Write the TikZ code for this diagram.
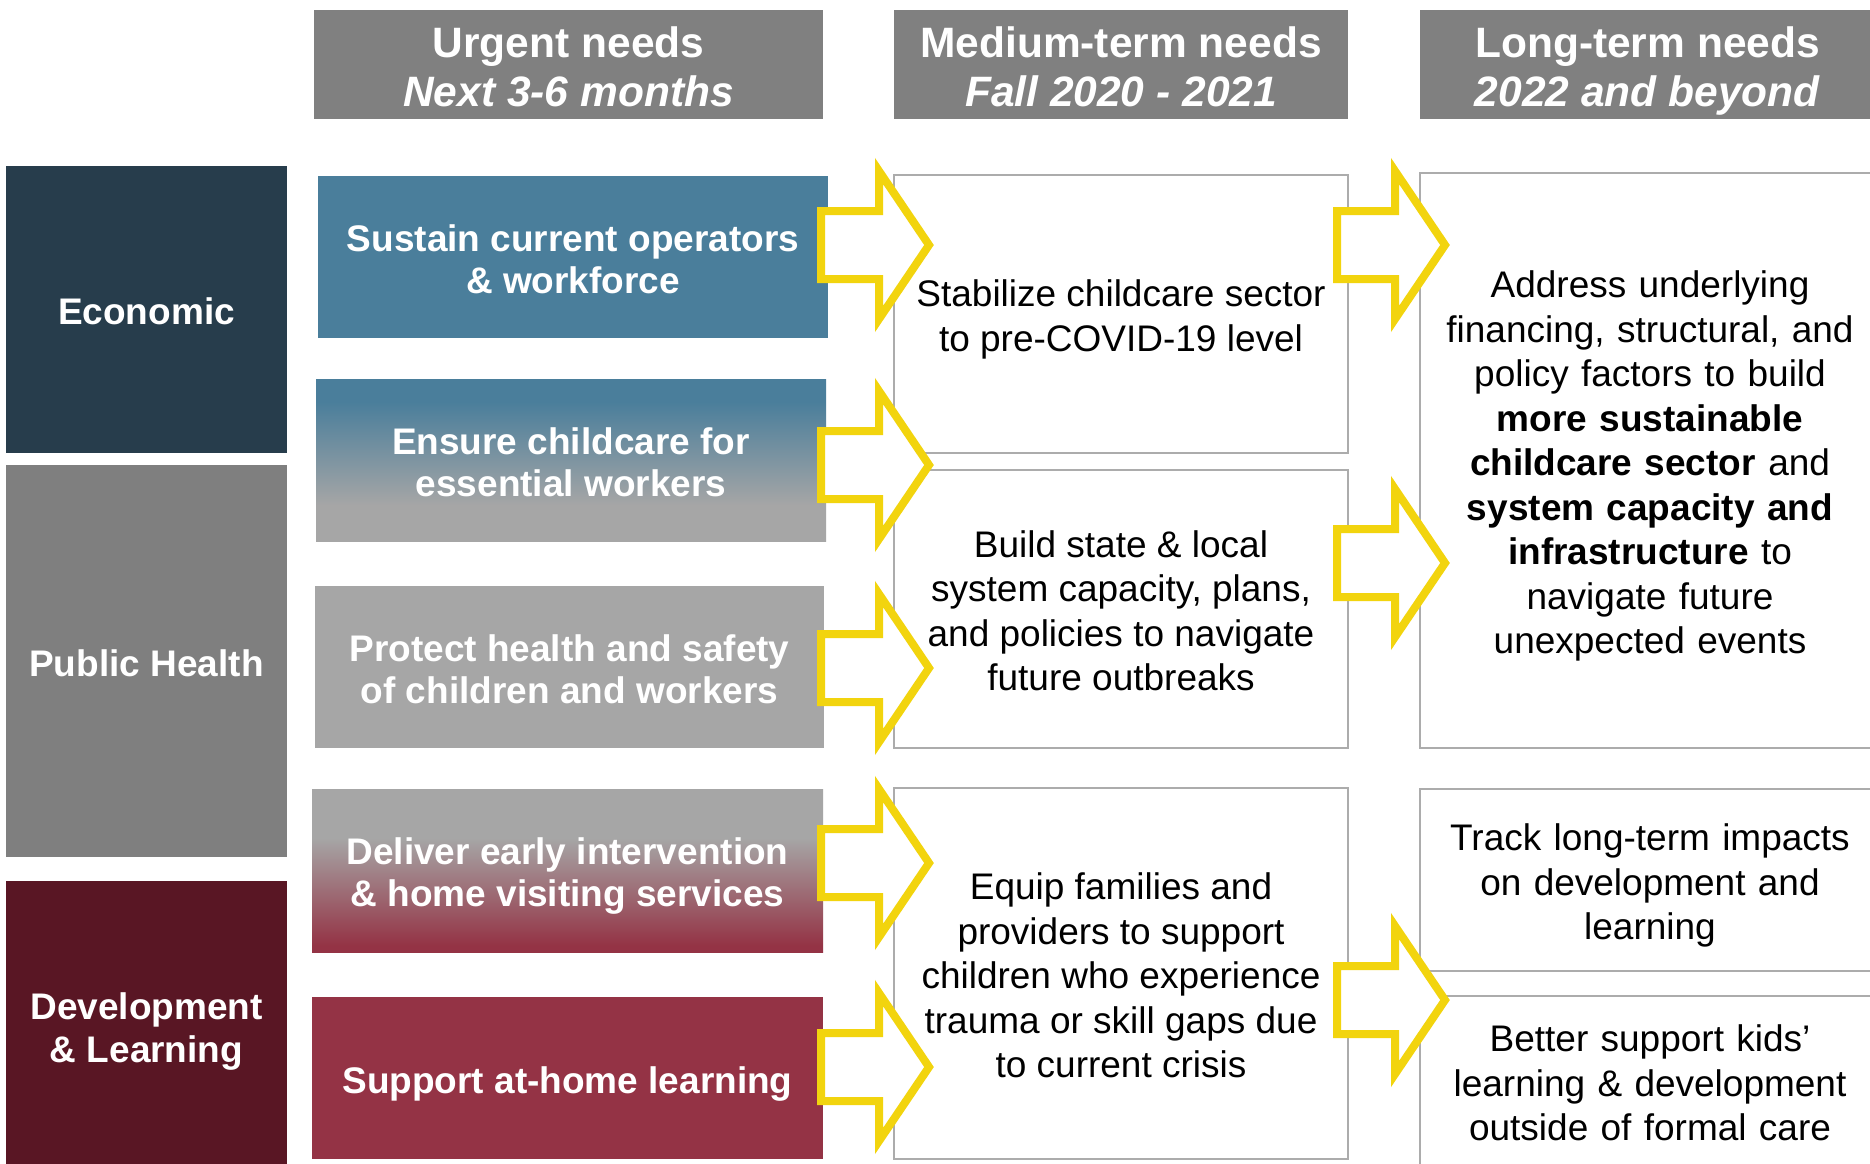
\documentclass[tikz,border=0pt]{standalone}
\usepackage{fontspec}
\setmainfont{Liberation Sans}
\definecolor{hdr}{RGB}{128,128,128}
\definecolor{eco}{RGB}{39,61,76}
\definecolor{phc}{RGB}{127,127,127}
\definecolor{dev}{RGB}{89,22,36}
\definecolor{steel}{RGB}{74,126,155}
\definecolor{lgray}{RGB}{166,166,166}
\definecolor{wine}{RGB}{148,51,69}
\definecolor{yel}{RGB}{242,212,14}
\definecolor{frame}{RGB}{172,172,172}
\pgfdeclareverticalshading{ensureshade}{100bp}{color(0bp)=(lgray); color(36bp)=(lgray); color(68bp)=(steel); color(100bp)=(steel)}
\pgfdeclareverticalshading{delivershade}{100bp}{color(0bp)=(wine); color(27bp)=(wine); color(60bp)=(lgray); color(100bp)=(lgray)}
\newcommand\pstrA{\rule{0pt}{1.03em}}
\newcommand\pstrB{\rule[-0.212em]{0pt}{0.212em}}
\begin{document}
\begin{tikzpicture}[x=1pt,y=-1pt,
  base/.style={rectangle, inner sep=0pt, outer sep=0pt, anchor=north west, align=center},
  hdrbox/.style={base, fill=hdr, text=white, font=\fontsize{42.5}{49}\selectfont\bfseries},
  catbox/.style={base, text=white, font=\fontsize{37}{43}\selectfont\bfseries},
  ubox/.style={base, text=white, font=\fontsize{37}{42}\selectfont\bfseries},
  wbox/.style={base, draw=frame, line width=2pt, fill=white, text=black, font=\fontsize{37}{44.5}\selectfont},
  arrowline/.style={draw=yel, fill=white, line width=8pt, line join=miter},
  yarrow/.pic={\path[arrowline] (4,-34) -- (62,-34) -- (62,-74) -- (112,0) -- (62,74) -- (62,34) -- (4,34) -- cycle;}
]
\useasboundingbox[fill=white] (0,0) rectangle (1870,1163);

% headers
\node[hdrbox, minimum width=509pt, minimum height=109pt] (hU) at (314,10) {\pstrA Urgent needs\\\textit{Next 3-6 months}\pstrB};
\node[hdrbox, minimum width=454pt, minimum height=109pt] (hM) at (894,10) {\pstrA Medium-term needs\\\textit{Fall 2020 - 2021}\pstrB};
\node[hdrbox, minimum width=455pt, minimum height=109pt] (hL) at (1420,10) {\pstrA Long-term needs\\\textit{2022 and beyond}\pstrB};

% categories
\node[catbox, fill=eco, minimum width=281pt, minimum height=287pt] (cEco) at (6,166) {\pstrA Economic\pstrB};
\node[catbox, fill=phc, minimum width=281pt, minimum height=392pt] (cPH) at (6,465) {\pstrA Public Health\pstrB};
\node[catbox, fill=dev, minimum width=281pt, minimum height=290pt] (cDev) at (6,881) {\pstrA Development\\\& Learning\pstrB};

% urgent column
\node[ubox, fill=steel, minimum width=510pt, minimum height=162pt] (u1) at (318,176) {\pstrA Sustain current operators\\\& workforce\pstrB};
\node[ubox, shade, shading=ensureshade, minimum width=510pt, minimum height=162pt] (u2) at (316,379) {\pstrA Ensure childcare for\\essential workers\pstrB};
\node[ubox, fill=lgray, minimum width=509pt, minimum height=162pt] (u3) at (315,586) {\pstrA Protect health and safety\\of children and workers\pstrB};
\node[ubox, shade, shading=delivershade, minimum width=511pt, minimum height=163pt] (u4) at (312,789) {\pstrA Deliver early intervention\\\& home visiting services\pstrB};
\node[ubox, fill=wine, minimum width=511pt, minimum height=162pt] (u5) at (312,997) {\pstrA Support at-home learning\pstrB};

% medium column
\node[wbox, minimum width=454pt, minimum height=278pt] (m1) at (894,175) {\pstrA Stabilize childcare sector\\to pre-COVID-19 level\pstrB};
\node[wbox, minimum width=454pt, minimum height=278pt] (m2) at (894,470) {\pstrA Build state \& local\\system capacity, plans,\\and policies to navigate\\future outbreaks\pstrB};
\node[wbox, minimum width=454pt, minimum height=371pt] (m3) at (894,788) {\pstrA Equip families and\\providers to support\\children who experience\\trauma or skill gaps due\\to current crisis\pstrB};

% long column
\node[wbox, minimum width=460pt, minimum height=575pt, text width=455pt] (l1) at (1420,173) {\pstrA Address underlying\\financing, structural, and\\policy factors to build\\\textbf{more sustainable}\\\textbf{childcare sector} and\\\textbf{system capacity and}\\\textbf{infrastructure} to\\navigate future\\unexpected events\pstrB};
\node[wbox, minimum width=460pt, minimum height=182pt, text width=455pt] (l2) at (1420,789) {\pstrA Track long-term impacts\\on development and\\learning\pstrB};
\node[wbox, minimum width=460pt, minimum height=170pt, text width=455pt] (l3) at (1420,996) {\pstrA Better support kids’\\learning \& development\\outside of formal care\pstrB};

% yellow block arrows
\pic at (817,245) {yarrow};
\pic at (817,465) {yarrow};
\pic at (817,668) {yarrow};
\pic at (817,863) {yarrow};
\pic at (817,1067) {yarrow};
\pic at (1333,245) {yarrow};
\pic at (1333,563) {yarrow};
\pic at (1333,1000) {yarrow};
\end{tikzpicture}
\end{document}
